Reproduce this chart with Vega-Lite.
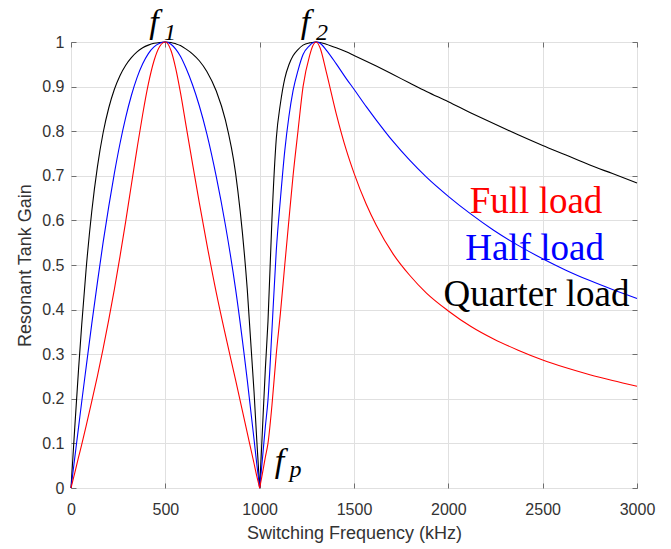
{
  "$schema": "https://vega.github.io/schema/vega-lite/v6.json",
  "width": 566,
  "height": 446,
  "autosize": "none",
  "padding": {"left": 71, "top": 42, "right": 34, "bottom": 61},
  "background": "white",
  "config": {
    "view": {"stroke": "#6e6e6e", "strokeWidth": 1},
    "font": "Liberation Sans"
  },
  "datasets": {
    "curves": [
      {"freq": 0, "gain": 0, "load": "Quarter load"},
      {"freq": 5, "gain": 0.034, "load": "Quarter load"},
      {"freq": 10, "gain": 0.068, "load": "Quarter load"},
      {"freq": 20, "gain": 0.136, "load": "Quarter load"},
      {"freq": 40, "gain": 0.266, "load": "Quarter load"},
      {"freq": 57, "gain": 0.367, "load": "Quarter load"},
      {"freq": 80, "gain": 0.49, "load": "Quarter load"},
      {"freq": 110, "gain": 0.62, "load": "Quarter load"},
      {"freq": 140, "gain": 0.72, "load": "Quarter load"},
      {"freq": 170, "gain": 0.796, "load": "Quarter load"},
      {"freq": 200, "gain": 0.852, "load": "Quarter load"},
      {"freq": 230, "gain": 0.894, "load": "Quarter load"},
      {"freq": 260, "gain": 0.925, "load": "Quarter load"},
      {"freq": 290, "gain": 0.948, "load": "Quarter load"},
      {"freq": 320, "gain": 0.965, "load": "Quarter load"},
      {"freq": 350, "gain": 0.978, "load": "Quarter load"},
      {"freq": 380, "gain": 0.987, "load": "Quarter load"},
      {"freq": 410, "gain": 0.993, "load": "Quarter load"},
      {"freq": 440, "gain": 0.997, "load": "Quarter load"},
      {"freq": 470, "gain": 0.999, "load": "Quarter load"},
      {"freq": 500, "gain": 1, "load": "Quarter load"},
      {"freq": 530, "gain": 0.999, "load": "Quarter load"},
      {"freq": 555, "gain": 0.996, "load": "Quarter load"},
      {"freq": 580, "gain": 0.992, "load": "Quarter load"},
      {"freq": 610, "gain": 0.984, "load": "Quarter load"},
      {"freq": 645, "gain": 0.973, "load": "Quarter load"},
      {"freq": 680, "gain": 0.958, "load": "Quarter load"},
      {"freq": 720, "gain": 0.934, "load": "Quarter load"},
      {"freq": 770, "gain": 0.89, "load": "Quarter load"},
      {"freq": 819, "gain": 0.824, "load": "Quarter load"},
      {"freq": 872, "gain": 0.707, "load": "Quarter load"},
      {"freq": 934, "gain": 0.447, "load": "Quarter load"},
      {"freq": 970, "gain": 0.217, "load": "Quarter load"},
      {"freq": 985, "gain": 0.105, "load": "Quarter load"},
      {"freq": 995, "gain": 0.036, "load": "Quarter load"},
      {"freq": 1000, "gain": 0, "load": "Quarter load"},
      {"freq": 1005, "gain": 0.044, "load": "Quarter load"},
      {"freq": 1010, "gain": 0.0885, "load": "Quarter load"},
      {"freq": 1020, "gain": 0.179, "load": "Quarter load"},
      {"freq": 1030, "gain": 0.266, "load": "Quarter load"},
      {"freq": 1044, "gain": 0.373, "load": "Quarter load"},
      {"freq": 1065, "gain": 0.602, "load": "Quarter load"},
      {"freq": 1088, "gain": 0.783, "load": "Quarter load"},
      {"freq": 1110, "gain": 0.862, "load": "Quarter load"},
      {"freq": 1133, "gain": 0.918, "load": "Quarter load"},
      {"freq": 1155, "gain": 0.949, "load": "Quarter load"},
      {"freq": 1177, "gain": 0.969, "load": "Quarter load"},
      {"freq": 1203, "gain": 0.983, "load": "Quarter load"},
      {"freq": 1230, "gain": 0.993, "load": "Quarter load"},
      {"freq": 1265, "gain": 0.998, "load": "Quarter load"},
      {"freq": 1280, "gain": 0.999, "load": "Quarter load"},
      {"freq": 1300, "gain": 1, "load": "Quarter load"},
      {"freq": 1320, "gain": 0.999, "load": "Quarter load"},
      {"freq": 1353, "gain": 0.995, "load": "Quarter load"},
      {"freq": 1406, "gain": 0.987, "load": "Quarter load"},
      {"freq": 1459, "gain": 0.978, "load": "Quarter load"},
      {"freq": 1500, "gain": 0.97, "load": "Quarter load"},
      {"freq": 1565, "gain": 0.957, "load": "Quarter load"},
      {"freq": 1618, "gain": 0.946, "load": "Quarter load"},
      {"freq": 1707, "gain": 0.927, "load": "Quarter load"},
      {"freq": 1795, "gain": 0.908, "load": "Quarter load"},
      {"freq": 1884, "gain": 0.889, "load": "Quarter load"},
      {"freq": 2000, "gain": 0.866, "load": "Quarter load"},
      {"freq": 2120, "gain": 0.841, "load": "Quarter load"},
      {"freq": 2240, "gain": 0.817, "load": "Quarter load"},
      {"freq": 2370, "gain": 0.792, "load": "Quarter load"},
      {"freq": 2500, "gain": 0.768, "load": "Quarter load"},
      {"freq": 2620, "gain": 0.747, "load": "Quarter load"},
      {"freq": 2750, "gain": 0.724, "load": "Quarter load"},
      {"freq": 2870, "gain": 0.705, "load": "Quarter load"},
      {"freq": 3000, "gain": 0.684, "load": "Quarter load"},

      {"freq": 0, "gain": 0, "load": "Half load"},
      {"freq": 5, "gain": 0.017, "load": "Half load"},
      {"freq": 10, "gain": 0.034, "load": "Half load"},
      {"freq": 20, "gain": 0.068, "load": "Half load"},
      {"freq": 40, "gain": 0.136, "load": "Half load"},
      {"freq": 57, "gain": 0.194, "load": "Half load"},
      {"freq": 80, "gain": 0.27, "load": "Half load"},
      {"freq": 110, "gain": 0.368, "load": "Half load"},
      {"freq": 140, "gain": 0.461, "load": "Half load"},
      {"freq": 170, "gain": 0.55, "load": "Half load"},
      {"freq": 200, "gain": 0.631, "load": "Half load"},
      {"freq": 230, "gain": 0.706, "load": "Half load"},
      {"freq": 260, "gain": 0.773, "load": "Half load"},
      {"freq": 290, "gain": 0.831, "load": "Half load"},
      {"freq": 320, "gain": 0.88, "load": "Half load"},
      {"freq": 350, "gain": 0.92, "load": "Half load"},
      {"freq": 380, "gain": 0.951, "load": "Half load"},
      {"freq": 410, "gain": 0.974, "load": "Half load"},
      {"freq": 440, "gain": 0.989, "load": "Half load"},
      {"freq": 470, "gain": 0.997, "load": "Half load"},
      {"freq": 500, "gain": 1, "load": "Half load"},
      {"freq": 530, "gain": 0.995, "load": "Half load"},
      {"freq": 555, "gain": 0.984, "load": "Half load"},
      {"freq": 580, "gain": 0.968, "load": "Half load"},
      {"freq": 610, "gain": 0.941, "load": "Half load"},
      {"freq": 645, "gain": 0.903, "load": "Half load"},
      {"freq": 680, "gain": 0.857, "load": "Half load"},
      {"freq": 720, "gain": 0.794, "load": "Half load"},
      {"freq": 770, "gain": 0.698, "load": "Half load"},
      {"freq": 819, "gain": 0.588, "load": "Half load"},
      {"freq": 872, "gain": 0.447, "load": "Half load"},
      {"freq": 934, "gain": 0.243, "load": "Half load"},
      {"freq": 970, "gain": 0.11, "load": "Half load"},
      {"freq": 985, "gain": 0.0526, "load": "Half load"},
      {"freq": 995, "gain": 0.018, "load": "Half load"},
      {"freq": 1000, "gain": 0, "load": "Half load"},
      {"freq": 1005, "gain": 0.022, "load": "Half load"},
      {"freq": 1010, "gain": 0.044, "load": "Half load"},
      {"freq": 1020, "gain": 0.0905, "load": "Half load"},
      {"freq": 1030, "gain": 0.137, "load": "Half load"},
      {"freq": 1044, "gain": 0.197, "load": "Half load"},
      {"freq": 1065, "gain": 0.353, "load": "Half load"},
      {"freq": 1088, "gain": 0.532, "load": "Half load"},
      {"freq": 1110, "gain": 0.648, "load": "Half load"},
      {"freq": 1133, "gain": 0.756, "load": "Half load"},
      {"freq": 1155, "gain": 0.833, "load": "Half load"},
      {"freq": 1177, "gain": 0.891, "load": "Half load"},
      {"freq": 1203, "gain": 0.936, "load": "Half load"},
      {"freq": 1230, "gain": 0.972, "load": "Half load"},
      {"freq": 1265, "gain": 0.992, "load": "Half load"},
      {"freq": 1280, "gain": 0.998, "load": "Half load"},
      {"freq": 1300, "gain": 1, "load": "Half load"},
      {"freq": 1320, "gain": 0.997, "load": "Half load"},
      {"freq": 1353, "gain": 0.982, "load": "Half load"},
      {"freq": 1406, "gain": 0.951, "load": "Half load"},
      {"freq": 1459, "gain": 0.918, "load": "Half load"},
      {"freq": 1500, "gain": 0.894, "load": "Half load"},
      {"freq": 1565, "gain": 0.855, "load": "Half load"},
      {"freq": 1618, "gain": 0.825, "load": "Half load"},
      {"freq": 1707, "gain": 0.777, "load": "Half load"},
      {"freq": 1795, "gain": 0.735, "load": "Half load"},
      {"freq": 1884, "gain": 0.697, "load": "Half load"},
      {"freq": 2000, "gain": 0.654, "load": "Half load"},
      {"freq": 2120, "gain": 0.614, "load": "Half load"},
      {"freq": 2240, "gain": 0.578, "load": "Half load"},
      {"freq": 2370, "gain": 0.544, "load": "Half load"},
      {"freq": 2500, "gain": 0.514, "load": "Half load"},
      {"freq": 2620, "gain": 0.489, "load": "Half load"},
      {"freq": 2750, "gain": 0.465, "load": "Half load"},
      {"freq": 2870, "gain": 0.445, "load": "Half load"},
      {"freq": 3000, "gain": 0.425, "load": "Half load"},

      {"freq": 0, "gain": 0, "load": "Full load"},
      {"freq": 5, "gain": 0.0085, "load": "Full load"},
      {"freq": 10, "gain": 0.017, "load": "Full load"},
      {"freq": 20, "gain": 0.034, "load": "Full load"},
      {"freq": 40, "gain": 0.069, "load": "Full load"},
      {"freq": 57, "gain": 0.098, "load": "Full load"},
      {"freq": 80, "gain": 0.139, "load": "Full load"},
      {"freq": 110, "gain": 0.194, "load": "Full load"},
      {"freq": 140, "gain": 0.251, "load": "Full load"},
      {"freq": 170, "gain": 0.312, "load": "Full load"},
      {"freq": 200, "gain": 0.377, "load": "Full load"},
      {"freq": 230, "gain": 0.446, "load": "Full load"},
      {"freq": 260, "gain": 0.52, "load": "Full load"},
      {"freq": 290, "gain": 0.598, "load": "Full load"},
      {"freq": 320, "gain": 0.68, "load": "Full load"},
      {"freq": 350, "gain": 0.761, "load": "Full load"},
      {"freq": 380, "gain": 0.838, "load": "Full load"},
      {"freq": 410, "gain": 0.906, "load": "Full load"},
      {"freq": 440, "gain": 0.958, "load": "Full load"},
      {"freq": 470, "gain": 0.99, "load": "Full load"},
      {"freq": 500, "gain": 1, "load": "Full load"},
      {"freq": 530, "gain": 0.981, "load": "Full load"},
      {"freq": 555, "gain": 0.941, "load": "Full load"},
      {"freq": 580, "gain": 0.887, "load": "Full load"},
      {"freq": 610, "gain": 0.812, "load": "Full load"},
      {"freq": 645, "gain": 0.725, "load": "Full load"},
      {"freq": 680, "gain": 0.64, "load": "Full load"},
      {"freq": 720, "gain": 0.547, "load": "Full load"},
      {"freq": 770, "gain": 0.438, "load": "Full load"},
      {"freq": 819, "gain": 0.342, "load": "Full load"},
      {"freq": 872, "gain": 0.243, "load": "Full load"},
      {"freq": 934, "gain": 0.124, "load": "Full load"},
      {"freq": 970, "gain": 0.0555, "load": "Full load"},
      {"freq": 985, "gain": 0.0263, "load": "Full load"},
      {"freq": 995, "gain": 0.009, "load": "Full load"},
      {"freq": 1000, "gain": 0, "load": "Full load"},
      {"freq": 1005, "gain": 0.011, "load": "Full load"},
      {"freq": 1010, "gain": 0.022, "load": "Full load"},
      {"freq": 1020, "gain": 0.045, "load": "Full load"},
      {"freq": 1030, "gain": 0.069, "load": "Full load"},
      {"freq": 1044, "gain": 0.1, "load": "Full load"},
      {"freq": 1065, "gain": 0.185, "load": "Full load"},
      {"freq": 1088, "gain": 0.3, "load": "Full load"},
      {"freq": 1110, "gain": 0.392, "load": "Full load"},
      {"freq": 1133, "gain": 0.5, "load": "Full load"},
      {"freq": 1155, "gain": 0.601, "load": "Full load"},
      {"freq": 1177, "gain": 0.7, "load": "Full load"},
      {"freq": 1203, "gain": 0.8, "load": "Full load"},
      {"freq": 1230, "gain": 0.9, "load": "Full load"},
      {"freq": 1265, "gain": 0.97, "load": "Full load"},
      {"freq": 1280, "gain": 0.99, "load": "Full load"},
      {"freq": 1300, "gain": 1, "load": "Full load"},
      {"freq": 1320, "gain": 0.987, "load": "Full load"},
      {"freq": 1353, "gain": 0.933, "load": "Full load"},
      {"freq": 1406, "gain": 0.839, "load": "Full load"},
      {"freq": 1459, "gain": 0.758, "load": "Full load"},
      {"freq": 1500, "gain": 0.706, "load": "Full load"},
      {"freq": 1565, "gain": 0.636, "load": "Full load"},
      {"freq": 1618, "gain": 0.589, "load": "Full load"},
      {"freq": 1707, "gain": 0.525, "load": "Full load"},
      {"freq": 1795, "gain": 0.477, "load": "Full load"},
      {"freq": 1884, "gain": 0.437, "load": "Full load"},
      {"freq": 2000, "gain": 0.397, "load": "Full load"},
      {"freq": 2120, "gain": 0.362, "load": "Full load"},
      {"freq": 2240, "gain": 0.334, "load": "Full load"},
      {"freq": 2370, "gain": 0.309, "load": "Full load"},
      {"freq": 2500, "gain": 0.287, "load": "Full load"},
      {"freq": 2620, "gain": 0.27, "load": "Full load"},
      {"freq": 2750, "gain": 0.254, "load": "Full load"},
      {"freq": 2870, "gain": 0.241, "load": "Full load"},
      {"freq": 3000, "gain": 0.228, "load": "Full load"}
    ],
    "bigf": [
      {"freq": 440, "gain": 1.021, "t": "f"},
      {"freq": 1243, "gain": 1.021, "t": "f"},
      {"freq": 1105, "gain": 0.036, "t": "f"}
    ],
    "subs": [
      {"freq": 525, "gain": 1.005, "t": "1"},
      {"freq": 1330, "gain": 1.005, "t": "2"},
      {"freq": 1190, "gain": 0.025, "t": "p"}
    ],
    "legendtext": [
      {"freq": 2465, "gain": 0.616, "load": "Full load"},
      {"freq": 2457, "gain": 0.512, "load": "Half load"},
      {"freq": 2467, "gain": 0.408, "load": "Quarter load"}
    ]
  },
  "layer": [
    {
      "data": {"name": "curves"},
      "mark": {"type": "line", "strokeWidth": 1.1, "interpolate": "monotone"},
      "encoding": {
        "x": {
          "field": "freq", "type": "quantitative",
          "scale": {"domain": [0, 3000], "nice": false, "zero": false},
          "axis": {
            "orient": "bottom",
            "values": [0, 500, 1000, 1500, 2000, 2500, 3000],
            "format": "d",
            "grid": true, "gridColor": "#e0e0e0", "gridWidth": 1,
            "domain": false,
            "tickSize": -5, "tickColor": "#6e6e6e",
            "labelFontSize": 16, "labelColor": "#333333", "labelPadding": 18,
            "labelFlush": false, "labelOverlap": false,
            "title": "Switching Frequency (kHz)",
            "titleFontSize": 18, "titleFontWeight": "normal", "titleColor": "#333333",
            "titleX": 283, "titleY": 50, "titleAlign": "center", "titleBaseline": "alphabetic"
          }
        },
        "y": {
          "field": "gain", "type": "quantitative",
          "scale": {"domain": [0, 1], "nice": false, "zero": false},
          "axis": {
            "orient": "left",
            "values": [0, 0.1, 0.2, 0.3, 0.4, 0.5, 0.6, 0.7, 0.8, 0.9, 1],
            "format": ".1~f",
            "grid": true, "gridColor": "#e0e0e0", "gridWidth": 1,
            "domain": false,
            "tickSize": -5, "tickColor": "#6e6e6e",
            "labelFontSize": 16, "labelColor": "#333333", "labelPadding": 12,
            "labelFlush": false, "labelOverlap": false,
            "title": "Resonant Tank Gain",
            "titleFontSize": 18, "titleFontWeight": "normal", "titleColor": "#333333",
            "titleAngle": -90, "titleX": -41, "titleY": 223, "titleAlign": "center", "titleBaseline": "alphabetic"
          }
        },
        "color": {
          "field": "load", "type": "nominal",
          "scale": {"domain": ["Full load", "Half load", "Quarter load"], "range": ["#ff0000", "#0000ff", "#000000"]},
          "legend": null
        }
      }
    },
    {
      "data": {"name": "bigf"},
      "mark": {"type": "text", "font": "Liberation Serif", "fontStyle": "italic", "fontSize": 34, "align": "center", "baseline": "alphabetic", "color": "#000000"},
      "encoding": {
        "x": {
          "field": "freq", "type": "quantitative",
          "axis": {"orient": "top", "values": [0, 500, 1000, 1500, 2000, 2500, 3000], "labels": false, "title": null, "grid": false, "domain": false, "tickSize": -5, "tickColor": "#6e6e6e"}
        },
        "y": {
          "field": "gain", "type": "quantitative",
          "axis": {"orient": "right", "values": [0, 0.1, 0.2, 0.3, 0.4, 0.5, 0.6, 0.7, 0.8, 0.9, 1], "labels": false, "title": null, "grid": false, "domain": false, "tickSize": -5, "tickColor": "#6e6e6e"}
        },
        "text": {"field": "t"}
      }
    },
    {
      "data": {"name": "subs"},
      "mark": {"type": "text", "font": "Liberation Serif", "fontStyle": "italic", "fontSize": 24, "align": "center", "baseline": "alphabetic", "color": "#000000"},
      "encoding": {
        "x": {"field": "freq", "type": "quantitative", "axis": null},
        "y": {"field": "gain", "type": "quantitative", "axis": null},
        "text": {"field": "t"}
      }
    },
    {
      "data": {"name": "legendtext"},
      "mark": {"type": "text", "font": "Liberation Serif", "fontSize": 37, "align": "center", "baseline": "alphabetic"},
      "encoding": {
        "x": {"field": "freq", "type": "quantitative", "axis": null},
        "y": {"field": "gain", "type": "quantitative", "axis": null},
        "text": {"field": "load"},
        "color": {"field": "load", "type": "nominal", "legend": null}
      }
    }
  ],
  "resolve": {"axis": {"x": "independent", "y": "independent"}}
}
